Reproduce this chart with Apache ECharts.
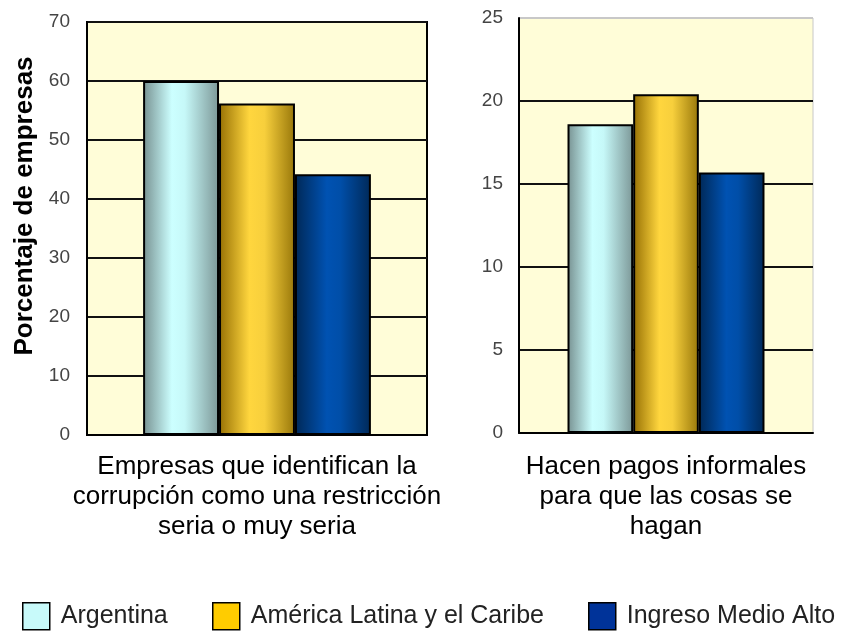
<!DOCTYPE html>
<html>
<head>
<meta charset="utf-8">
<script src="https://cdn.jsdelivr.net/npm/echarts@6/dist/echarts.min.js"></script>
<style>
  html, body { margin: 0; padding: 0; background: #fff; }
  #chart { width: 842px; height: 635px; }
</style>
</head>
<body>
<div id="chart"></div>
<script>
// categorias (una por panel)
var categories = [
  "Empresas que identifican la\ncorrupción como una restricción\nseria o muy seria",
  "Hacen pagos informales\npara que las cosas se\nhagan"
];
var seriesNames = ["Argentina", "América Latina y el Caribe", "Ingreso Medio Alto"];
// valores por serie: [panel izquierdo, panel derecho]
var argentina = [60, 18.6];
var latam = [56.2, 20.4];
var ingresoMedioAlto = [44.2, 15.7];
var yMax = [70, 25];
var yStep = [10, 5];

var seriesValues = [argentina, latam, ingresoMedioAlto];

// degradados tipo cilindro
function grad(stops) {
  return new echarts.graphic.LinearGradient(0, 0, 1, 0, stops);
}
var barColors = [
  grad([{offset: 0, color: "#779191"}, {offset: 0.38, color: "#ccffff"}, {offset: 0.55, color: "#c6f8f8"}, {offset: 1, color: "#7c9797"}]),
  grad([{offset: 0, color: "#967004"}, {offset: 0.4, color: "#ffd63e"}, {offset: 0.6, color: "#f7cf3c"}, {offset: 1, color: "#98770a"}]),
  grad([{offset: 0, color: "#002856"}, {offset: 0.42, color: "#0052b2"}, {offset: 0.6, color: "#004ea8"}, {offset: 1, color: "#002958"}])
];
var legendColors = ["#c8fafa", "#ffcc00", "#003399"];
var legendLeft = [17, 207, 583];

var font = "'Liberation Sans', Arial, sans-serif";

var series = [];
for (var g = 0; g < 2; g++) {
  for (var s = 0; s < 3; s++) {
    series.push({
      name: seriesNames[s],
      type: "bar",
      xAxisIndex: g,
      yAxisIndex: g,
      data: [seriesValues[s][g]],
      barGap: "0%",
      barCategoryGap: "33%",
      itemStyle: {
        color: barColors[s],
        borderColor: "#000",
        borderWidth: 2
      }
    });
  }
}

var legends = [];
for (var i = 0; i < 3; i++) {
  legends.push({
    left: legendLeft[i],
    top: 597,
    selectedMode: false,
    icon: "rect",
    itemWidth: 27,
    itemHeight: 27,
    data: [{
      name: seriesNames[i],
      itemStyle: {color: legendColors[i], borderColor: "#000", borderWidth: 1.5}
    }],
    textStyle: {fontSize: 25, color: "#222", fontFamily: font, padding: [0, 0, 0, 6]}
  });
}

var chart = echarts.init(document.getElementById("chart"));
chart.setOption({
  animation: false,
  backgroundColor: "#fff",
  grid: [
    {left: 87, top: 22, width: 340, height: 413, show: true,
      backgroundColor: "#fffdd8", borderColor: "#000", borderWidth: 2},
    {left: 519, top: 18, width: 294, height: 415, show: true,
      backgroundColor: "#fffdd8", borderColor: "#c8c8c8", borderWidth: 1}
  ],
  legend: legends,
  graphic: [{
    type: "text",
    x: 25,
    y: 206,
    rotation: Math.PI / 2,
    style: {
      text: "Porcentaje de empresas",
      font: "bold 26px " + font,
      fill: "#000",
      textAlign: "center",
      textVerticalAlign: "middle"
    }
  }],
  xAxis: [0, 1].map(function (g) {
    return {
      type: "category",
      gridIndex: g,
      data: [categories[g]],
      axisLine: {lineStyle: {color: "#000", width: 2}},
      axisTick: {show: false},
      axisLabel: {
        interval: 0,
        fontSize: 26,
        lineHeight: 30,
        color: "#000",
        fontFamily: font,
        margin: g === 0 ? 17 : 19
      }
    };
  }),
  yAxis: [0, 1].map(function (g) {
    return {
      type: "value",
      gridIndex: g,
      min: 0,
      max: yMax[g],
      interval: yStep[g],
      axisLine: {show: true, lineStyle: {color: "#000", width: 2}},
      axisTick: {show: false},
      axisLabel: {fontSize: 19, color: "#444", fontFamily: font, margin: g === 0 ? 17 : 16},
      splitLine: {
        lineStyle: {
          width: 2,
          color: g === 0 ? "#111" : ["#111", "#111", "#111", "#111", "#111", "#c8c8c8"]
        }
      }
    };
  }),
  series: series
});
</script>
</body>
</html>
